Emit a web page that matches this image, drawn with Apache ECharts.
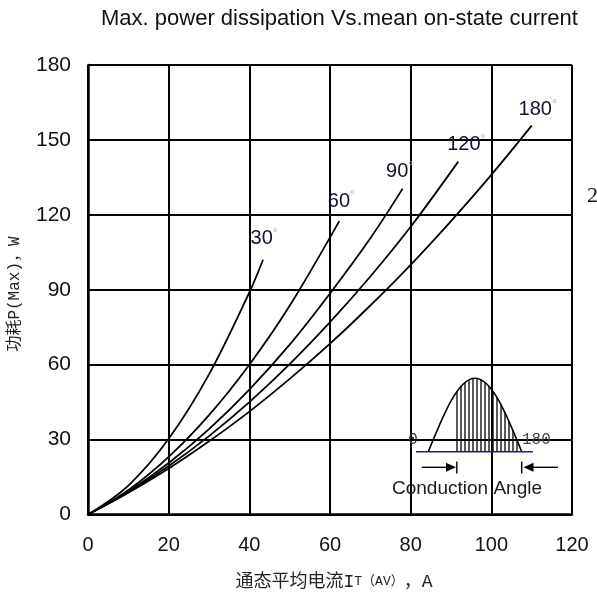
<!DOCTYPE html>
<html>
<head>
<meta charset="utf-8">
<script src="https://cdn.jsdelivr.net/npm/echarts@6/dist/echarts.min.js"></script>
<style>html,body{margin:0;padding:0;background:#fff;}#c{width:597px;height:595px;}</style>
</head>
<body>
<div id="c"></div>
<script>
// ---- data ----
const xTicks = [0, 20, 40, 60, 80, 100, 120];
const yTicks = [0, 30, 60, 90, 120, 150, 180];
const angleNames = ['30', '60', '90', '120', '180'];
const current30 = [0, 10, 20, 30, 40, 43.4];
const power30 = [0, 11.6, 30.3, 56.1, 88.9, 102];
const current60 = [0, 10, 20, 30, 40, 50, 62.3];
const power60 = [0, 9.8, 23.1, 39.8, 60.0, 83.6, 117.5];
const current90 = [0, 10, 20, 30, 40, 50, 60, 70, 78];
const power90 = [0, 9.2, 20.6, 34.2, 50.0, 68.0, 88.5, 110.6, 130.5];
const current120 = [0, 10, 20, 30, 40, 50, 60, 70, 80, 91.8];
const power120 = [0, 8.9, 19.4, 31.4, 45.0, 60.2, 77.0, 95.3, 115.2, 141.3];
const current180 = [0, 10, 20, 30, 40, 50, 60, 70, 80, 90, 100, 110];
const power180 = [0, 8.7, 18.4, 29.3, 41.2, 54.3, 68.4, 83.7, 100.0, 117.5, 136.0, 155.7];

const titleText = 'Max. power dissipation Vs.mean on-state current';

const curves = [
  {name: angleNames[0], x: current30, y: power30, off: [1, -4]},
  {name: angleNames[1], x: current60, y: power60, off: [2, -3]},
  {name: angleNames[2], x: current90, y: power90, off: [-3, 0]},
  {name: angleNames[3], x: current120, y: power120, off: [8, 0]},
  {name: angleNames[4], x: current180, y: power180, off: [6, 1]}
];

const chart = echarts.init(document.getElementById('c'), null, {renderer: 'canvas'});

function buildData(c) {
  return c.x.map(function (v, i) {
    const item = {value: [v, c.y[i]]};
    if (i === c.x.length - 1) {
      item.label = {
        show: true, position: 'top', distance: 6, offset: c.off,
        formatter: '{n|' + c.name + '}{d|°}',
        rich: {
          n: {fontFamily: 'Liberation Sans, Arial, sans-serif', fontSize: 20, color: '#15122e'},
          d: {fontFamily: 'Liberation Sans, Arial, sans-serif', fontSize: 12, color: '#aaaaaa', verticalAlign: 'top', padding: [0, 0, 10, 0]}
        }
      };
    }
    return item;
  });
}

const series = curves.map(function (c) {
  return {
    type: 'line', name: c.name, data: buildData(c), smooth: 0.35,
    showSymbol: true, symbol: 'circle', symbolSize: 0.01,
    itemStyle: {color: 'rgba(0,0,0,0)', borderWidth: 0},
    lineStyle: {color: '#000', width: 1.8},
    label: {show: false}, z: 3, silent: true, animation: false
  };
});

const gridLeft = 88, gridTop = 65, gridW = 484, gridH = 449.5;

chart.setOption({
  animation: false,
  backgroundColor: '#fff',
  grid: {left: gridLeft, top: gridTop, width: gridW, height: gridH, show: false, containLabel: false},
  xAxis: {
    type: 'value', min: xTicks[0], max: xTicks[xTicks.length - 1], interval: 20,
    axisLine: {show: true, lineStyle: {color: '#000', width: 2.5}},
    axisTick: {show: false},
    splitLine: {show: true, lineStyle: {color: '#000', width: 2}},
    axisLabel: {color: '#111', fontFamily: 'Liberation Sans, Arial, sans-serif', fontSize: 20, margin: 21}
  },
  yAxis: {
    type: 'value', min: yTicks[0], max: yTicks[yTicks.length - 1], interval: 30,
    axisLine: {show: true, lineStyle: {color: '#000', width: 2.5}},
    axisTick: {show: false},
    splitLine: {show: true, lineStyle: {color: '#000', width: 2}},
    axisLabel: {color: '#111', fontFamily: 'Liberation Sans, Arial, sans-serif', fontSize: 21, margin: 17}
  },
  series: series
});

// ---- decorative overlay: title, axis names, inset diagram ----
const g = [];
g.push({type: 'text', left: 101, top: 8, style: {text: titleText, font: '22px "Liberation Sans", Arial, sans-serif', fill: '#111'}});
g.push({type: 'text', x: 334, y: 582, style: {
  text: '{a|通态平均电流I}{b|T（AV）}{a|，A}', align: 'center', verticalAlign: 'middle',
  rich: {a: {fontFamily: 'Liberation Mono, Noto Sans CJK SC, monospace', fontSize: 18, fill: '#222'},
         b: {fontFamily: 'Liberation Mono, Noto Sans CJK SC, monospace', fontSize: 13, fill: '#222'}}
}});
g.push({type: 'text', x: 15, y: 294, rotation: Math.PI / 2, style: {
  text: '功耗P(Max)，W', align: 'center', verticalAlign: 'middle',
  font: '16px "Liberation Mono", "Noto Sans CJK SC", monospace', fill: '#222'
}});
g.push({type: 'text', x: 587, y: 196, style: {text: '2', font: '22px "Liberation Serif", serif', fill: '#111', verticalAlign: 'middle'}});

// inset (schematic of conduction angle)
const bx0 = 428.3, bx1 = 521.7, by = 451.7, py = 378.3;
const hw = (bx1 - bx0) / 2, hh = by - py;
g.push({type: 'bezierCurve', shape: {x1: bx0, y1: by, cpx1: bx0 + 0.326 * hw, cpy1: by - 0.5122 * hh, cpx2: bx0 + 0.64 * hw, cpy2: py, x2: bx0 + hw, y2: py}, style: {stroke: '#000', lineWidth: 1.6, fill: null}, z: 10});
g.push({type: 'bezierCurve', shape: {x1: bx0 + hw, y1: py, cpx1: bx1 - 0.64 * hw, cpy1: py, cpx2: bx1 - 0.326 * hw, cpy2: by - 0.5122 * hh, x2: bx1, y2: by}, style: {stroke: '#000', lineWidth: 1.6, fill: null}, z: 10});
for (let hx = 457; hx <= 518; hx += 4) {
  const top = by - hh * Math.sin(Math.PI * (hx - bx0) / (bx1 - bx0));
  g.push({type: 'line', shape: {x1: hx, y1: by, x2: hx, y2: top}, style: {stroke: '#000', lineWidth: 1.3}, z: 10});
}
g.push({type: 'line', shape: {x1: 416, y1: by, x2: 533, y2: by}, style: {stroke: '#1c1c8a', lineWidth: 1.6}, z: 11});
g.push({type: 'line', shape: {x1: 421.7, y1: 467.3, x2: 449, y2: 467.3}, style: {stroke: '#000', lineWidth: 1.4}, z: 10});
g.push({type: 'polygon', shape: {points: [[446, 462.8], [456, 467.3], [446, 471.8]]}, style: {fill: '#000'}, z: 10});
g.push({type: 'line', shape: {x1: 456.8, y1: 461.5, x2: 456.8, y2: 473.5}, style: {stroke: '#000', lineWidth: 1.4}, z: 10});
g.push({type: 'line', shape: {x1: 521.7, y1: 461.5, x2: 521.7, y2: 473.5}, style: {stroke: '#000', lineWidth: 1.4}, z: 10});
g.push({type: 'polygon', shape: {points: [[533.5, 462.8], [523.5, 467.3], [533.5, 471.8]]}, style: {fill: '#000'}, z: 10});
g.push({type: 'line', shape: {x1: 531, y1: 467.3, x2: 558, y2: 467.3}, style: {stroke: '#000', lineWidth: 1.4}, z: 10});
g.push({type: 'text', x: 413, y: 440, style: {text: '0', font: '16px "Liberation Mono", monospace', fill: '#333', align: 'center', verticalAlign: 'middle'}, z: 10});
g.push({type: 'text', x: 522, y: 440, style: {text: '180', font: '16px "Liberation Mono", monospace', fill: '#444', align: 'left', verticalAlign: 'middle'}, z: 10});
g.push({type: 'text', x: 467, y: 489, style: {text: 'Conduction Angle', font: '19px "Liberation Sans", Arial, sans-serif', fill: '#1a1a1a', align: 'center', verticalAlign: 'middle'}, z: 10});

chart.setOption({graphic: {elements: g}});
</script>
</body>
</html>
